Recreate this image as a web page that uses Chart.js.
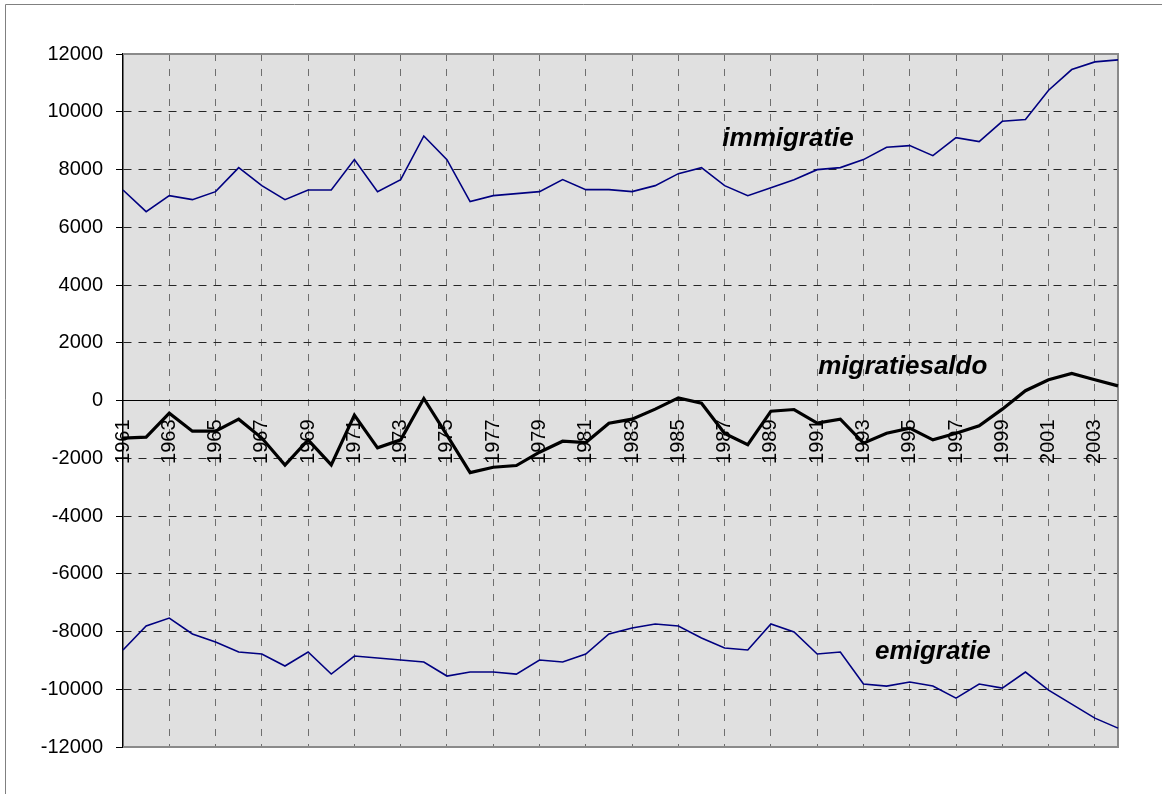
<!DOCTYPE html>
<html><head><meta charset="utf-8">
<script src="https://cdn.jsdelivr.net/npm/chart.js@4"></script>
<style>html,body{margin:0;padding:0;background:#fff}#wrap{width:1162px;height:794px;position:relative}</style>
</head><body><div id="wrap"><canvas id="c" width="1162" height="794"></canvas></div>
<script>
const years = [1961,1962,1963,1964,1965,1966,1967,1968,1969,1970,1971,1972,1973,1974,1975,1976,1977,1978,1979,1980,1981,1982,
  1983,1984,1985,1986,1987,1988,1989,1990,1991,1992,1993,1994,1995,1996,1997,1998,1999,2000,2001,2002,2003,2004];
const immigratie = [7290,6540,7095,6956,7233,8065,7441,6956,7290,7290,8342,7233,7649,9161,8342,6887,7095,7164,7233,7649,7303,7303,
  7233,7441,7857,8065,7441,7095,7372,7649,7995,8065,8342,8769,8827,8481,9104,8966,9670,9729,10745,11462,11727,11796];
const emigratie = [-8642,-7810,-7533,-8087,-8365,-8711,-8780,-9196,-8711,-9474,-8850,-8919,-8988,-9058,-9543,-9404,-9404,-9474,-8988,-9058,-8780,-8087,
  -7880,-7741,-7810,-8226,-8573,-8642,-7741,-8018,-8780,-8711,-9820,-9890,-9751,-9890,-10306,-9820,-9959,-9404,-10029,-10514,-11000,-11346];
const migratiesaldo = [-1305,-1270,-439,-1063,-1063,-647,-1300,-2235,-1363,-2230,-508,-1641,-1363,69,-1200,-2496,-2311,-2253,-1791,-1410,-1456,-786,
  -647,-300,92,-92,-1140,-1530,-370,-312,-786,-647,-1479,-1132,-959,-1363,-1132,-878,-300,340,716,935,716,508];
const yTicks = {min:-12000, max:12000, step:2000};
const seriesLabels = [
  {text:'immigratie', x:28.74, y:9060},
  {text:'migratiesaldo', x:33.7, y:1150},
  {text:'emigratie', x:35.0, y:-8720}
];

const FONT = "'Liberation Sans', Arial, Helvetica, sans-serif";

const framePlugin = {
  id:'frame',
  beforeDraw(chart){
    const {ctx, chartArea:a} = chart;
    ctx.save();
    ctx.fillStyle = '#ffffff';
    ctx.fillRect(0,0,chart.width,chart.height);
    ctx.strokeStyle = '#808080';
    ctx.lineWidth = 1;
    ctx.beginPath();
    ctx.moveTo(5.5, chart.height); ctx.lineTo(5.5, 4.5); ctx.lineTo(chart.width, 4.5);
    ctx.stroke();
    ctx.fillStyle = '#e0e0e0';
    ctx.fillRect(a.left,a.top,a.right-a.left,a.bottom-a.top);
    ctx.restore();
  },
  beforeDatasetsDraw(chart){
    const {ctx, chartArea:a} = chart;
    ctx.save();
    ctx.strokeStyle = '#8a8a8a';
    ctx.lineWidth = 2;
    ctx.beginPath();
    ctx.moveTo(a.left, a.top); ctx.lineTo(a.right, a.top);
    ctx.lineTo(a.right, a.bottom); ctx.lineTo(a.left, a.bottom);
    ctx.stroke();
    ctx.restore();
  },
  afterDatasetsDraw(chart){
    const {ctx} = chart;
    const xs = chart.scales.x, ys = chart.scales.y;
    ctx.save();
    ctx.font = "bold italic 26px " + FONT;
    ctx.fillStyle = '#000';
    ctx.textAlign = 'center';
    ctx.textBaseline = 'middle';
    seriesLabels.forEach(l => {
      ctx.fillText(l.text, xs.getPixelForValue(l.x), ys.getPixelForValue(l.y));
    });
    ctx.restore();
  }
};

new Chart(document.getElementById('c'), {
  type:'line',
  data:{
    labels: years.map(String),
    datasets:[
      {label:'immigratie', data:immigratie, borderColor:'#000080', borderWidth:1.6, pointRadius:0, tension:0, fill:false},
      {label:'emigratie', data:emigratie, borderColor:'#000080', borderWidth:1.6, pointRadius:0, tension:0, fill:false},
      {label:'migratiesaldo', data:migratiesaldo, borderColor:'#000000', borderWidth:3.2, pointRadius:0, tension:0, fill:false}
    ]
  },
  options:{
    responsive:false, animation:false, devicePixelRatio:1,
    layout:{padding:{top:54, right:44, bottom:47, left:0}},
    plugins:{legend:{display:false}, tooltip:{enabled:false}},
    scales:{
      x:{
        type:'category',
        position:{y:0},
        offset:false,
        ticks:{autoSkip:false, maxRotation:90, minRotation:90, padding:19, color:'#000',
          font:{family:FONT, size:20},
          callback:(v,i)=> i%2===0 ? String(years[i]) : ''},
        grid:{drawTicks:false, color:c => (c.index%2===0 && c.index>0) ? '#6e6e6e' : 'rgba(0,0,0,0)', lineWidth:1},
        border:{display:true, color:'#000', width:1, dash:[7,8]}
      },
      y:{
        min:yTicks.min, max:yTicks.max,
        afterFit:s => { s.width = 123; },
        ticks:{stepSize:yTicks.step, padding:13, color:'#000', font:{family:FONT, size:20},
          callback:v => String(v)},
        grid:{color:c => (c.tick && (c.tick.value===yTicks.min || c.tick.value===yTicks.max)) ? 'rgba(0,0,0,0)' : '#262626',
          tickColor:'#000', tickLength:7, lineWidth:1},
        border:{display:true, color:'#000', width:1.5, dash:[8,7]}
      }
    }
  },
  plugins:[framePlugin]
});
</script></body></html>
